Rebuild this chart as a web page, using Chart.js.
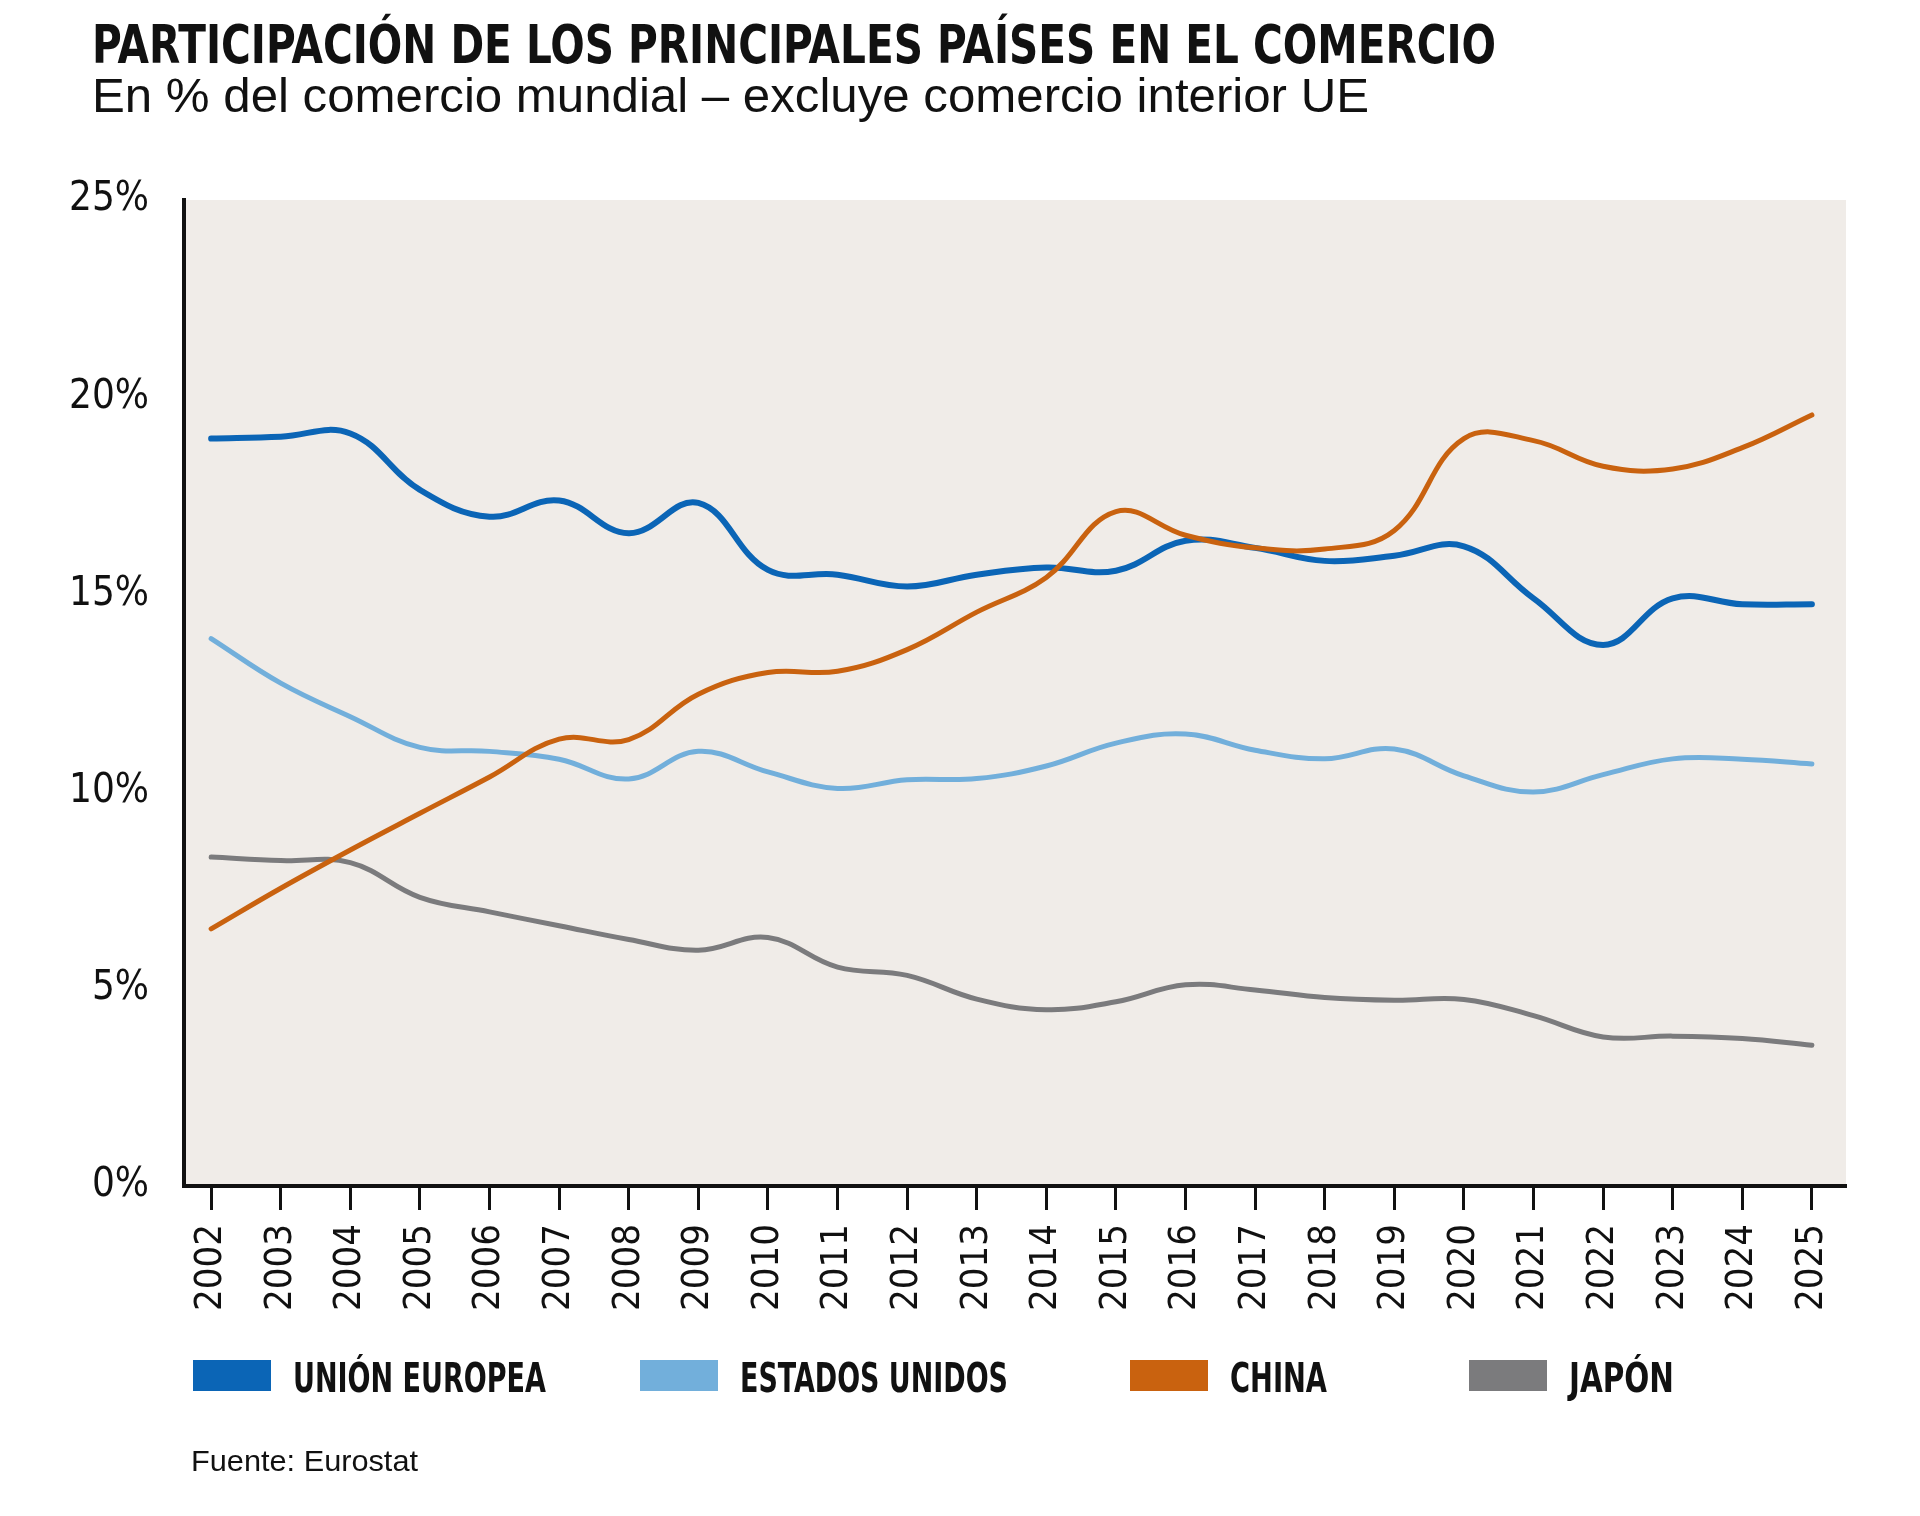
<!DOCTYPE html>
<html lang="es">
<head>
<meta charset="utf-8">
<title>Participación de los principales países en el comercio</title>
<script src="https://cdn.jsdelivr.net/npm/chart.js@4/dist/chart.umd.min.js"></script>
<style>
    html, body {
        margin: 0;
        padding: 0;
        background: #ffffff;
    }
    .page {
        position: relative;
        width: 1920px;
        height: 1516px;
        overflow: hidden;
        background: #ffffff;
    }
    .chart-box {
        position: absolute;
        left: 0;
        top: 0;
        width: 1920px;
        height: 1516px;
    }
    .fit {
        position: absolute;
        white-space: nowrap;
        transform-origin: 0 0;
        color: #111;
        line-height: 1;
    }
    .title {
        left: 92px;
        top: 18px;
        font-family: "Liberation Sans Narrow", "DejaVu Sans Condensed", "Liberation Sans", sans-serif;
        font-weight: bold;
        font-size: 53px;
    }
    .subtitle {
        left: 92px;
        top: 72px;
        font-family: "Liberation Sans", Arial, sans-serif;
        font-size: 48px;
    }
    .legend-box {
        position: absolute;
        width: 78px;
        height: 31px;
    }
    .legend-text {
        font-family: "Liberation Sans Narrow", "DejaVu Sans Condensed", "Liberation Sans", sans-serif;
        font-weight: bold;
        font-size: 40px;
    }
    .source {
        left: 191px;
        top: 1446px;
        font-family: "Liberation Sans", Arial, sans-serif;
        font-size: 30px;
    }
</style>
</head>
<body>
<div class="page">
    <div class="chart-box"><canvas id="tradeChart" width="1920" height="1516"></canvas></div>
    <div class="fit title" data-w="1404">PARTICIPACIÓN DE LOS PRINCIPALES PAÍSES EN EL COMERCIO</div>
    <div class="fit subtitle" data-w="1277">En % del comercio mundial – excluye comercio interior UE</div>
    <div id="legend"></div>
    <div class="fit source" data-w="227">Fuente: Eurostat</div>
</div>

<script>
// años (eje X)
const years = [2002, 2003, 2004, 2005, 2006, 2007, 2008, 2009, 2010, 2011, 2012, 2013,
               2014, 2015, 2016, 2017, 2018, 2019, 2020, 2021, 2022, 2023, 2024, 2025];

// % del comercio mundial
const unionEuropea = [18.95, 19.0, 19.08, 17.65, 16.97, 17.38, 16.55, 17.32, 15.62, 15.5, 15.2, 15.5,
                      15.68, 15.6, 16.36, 16.18, 15.85, 15.98, 16.22, 14.9, 13.72, 14.9, 14.75, 14.75];
const estadosUnidos = [13.88, 12.75, 11.9, 11.12, 11.02, 10.82, 10.32, 11.02, 10.5, 10.08, 10.3, 10.33,
                       10.65, 11.23, 11.46, 11.05, 10.83, 11.08, 10.4, 9.99, 10.43, 10.83, 10.82, 10.7];
const china = [6.52, 7.55, 8.52, 9.45, 10.37, 11.33, 11.32, 12.47, 13.02, 13.05, 13.6, 14.55,
               15.43, 17.1, 16.5, 16.18, 16.15, 16.62, 18.95, 18.9, 18.25, 18.18, 18.72, 19.55];
const japon = [8.34, 8.25, 8.2, 7.32, 6.95, 6.6, 6.25, 5.98, 6.3, 5.55, 5.34, 4.74,
               4.47, 4.67, 5.1, 4.97, 4.78, 4.71, 4.73, 4.32, 3.78, 3.8, 3.74, 3.57];

// eje Y
const yTicks = [0, 5, 10, 15, 20, 25];

const seriesNames = ['UNIÓN EUROPEA', 'ESTADOS UNIDOS', 'CHINA', 'JAPÓN'];

const colors = {
    eu: '#0b65b6',
    us: '#72afdb',
    cn: '#c9620f',
    jp: '#7b7b7d'
};

const tickFont = { family: '"Liberation Sans Narrow", "DejaVu Sans Condensed", "Liberation Sans", sans-serif', size: 40 };

function toPoints(values) {
    return values.map((v, i) => ({ x: years[i], y: v }));
}

// Fondo gris claro del área de trazado
const plotBackground = {
    id: 'plotBackground',
    beforeDraw(chart) {
        const { ctx, chartArea } = chart;
        ctx.save();
        ctx.fillStyle = '#f0ece8';
        ctx.fillRect(chartArea.left, chartArea.top, chartArea.right - chartArea.left, chartArea.bottom - chartArea.top);
        ctx.restore();
    }
};

const lineStyle = {
    pointRadius: 0,
    pointHoverRadius: 0,
    fill: false,
    tension: 0.4,
    borderCapStyle: 'round',
    borderJoinStyle: 'round'
};

const ctx = document.getElementById('tradeChart').getContext('2d');
const tradeChart = new Chart(ctx, {
    type: 'line',
    data: {
        datasets: [
            { label: seriesNames[0], data: toPoints(unionEuropea), borderColor: colors.eu, backgroundColor: colors.eu, borderWidth: 6, order: 1, ...lineStyle },
            { label: seriesNames[1], data: toPoints(estadosUnidos), borderColor: colors.us, backgroundColor: colors.us, borderWidth: 5, order: 2, ...lineStyle },
            { label: seriesNames[2], data: toPoints(china), borderColor: colors.cn, backgroundColor: colors.cn, borderWidth: 5, order: 0, ...lineStyle },
            { label: seriesNames[3], data: toPoints(japon), borderColor: colors.jp, backgroundColor: colors.jp, borderWidth: 5, order: 3, ...lineStyle }
        ]
    },
    options: {
        responsive: false,
        animation: false,
        devicePixelRatio: 1,
        layout: {
            padding: { left: 0, top: 200, right: 74, bottom: 200 }
        },
        plugins: {
            legend: { display: false },
            title: { display: false },
            tooltip: { enabled: false }
        },
        scales: {
            x: {
                type: 'linear',
                min: 2001.61,
                max: 2025.49,
                afterFit(scale) { scale.height = 130; },
                grid: {
                    display: true,
                    drawOnChartArea: false,
                    drawTicks: true,
                    tickLength: 24,
                    tickWidth: 3,
                    tickColor: '#111'
                },
                border: { display: true, color: '#111', width: 4 },
                ticks: {
                    stepSize: 1,
                    includeBounds: false,
                    autoSkip: false,
                    minRotation: 90,
                    maxRotation: 90,
                    padding: 14,
                    color: '#111',
                    font: { ...tickFont, size: 38 },
                    callback: (v) => years.includes(v) ? String(v) : ''
                }
            },
            y: {
                min: yTicks[0],
                max: yTicks[yTicks.length - 1],
                afterFit(scale) { scale.width = 184; },
                afterBuildTicks(scale) { scale.ticks = yTicks.map(v => ({ value: v })); },
                grid: { display: false, drawTicks: false },
                border: { display: true, color: '#111', width: 4 },
                ticks: {
                    padding: 35,
                    color: '#111',
                    font: tickFont,
                    callback: (v) => v + '%'
                }
            }
        }
    },
    plugins: [plotBackground]
});

// Leyenda en HTML a partir de los datasets
const legendX = [193, 640, 1130, 1469];
const legendTextW = [253, 268, 97, 105];
const legendEl = document.getElementById('legend');
tradeChart.data.datasets.forEach((ds, i) => {
    const box = document.createElement('div');
    box.className = 'legend-box';
    box.style.left = legendX[i] + 'px';
    box.style.top = '1360px';
    box.style.background = ds.borderColor;
    legendEl.appendChild(box);

    const txt = document.createElement('div');
    txt.className = 'fit legend-text';
    txt.style.left = (legendX[i] + 100) + 'px';
    txt.style.top = '1358px';
    txt.dataset.w = legendTextW[i];
    txt.textContent = ds.label;
    legendEl.appendChild(txt);
});

// Ajuste horizontal de los textos al ancho del original
document.querySelectorAll('.fit').forEach(el => {
    const target = parseFloat(el.dataset.w);
    const w = el.getBoundingClientRect().width;
    if (target && w) {
        el.style.transform = 'scaleX(' + (target / w).toFixed(4) + ')';
    }
});
</script>
</body>
</html>
